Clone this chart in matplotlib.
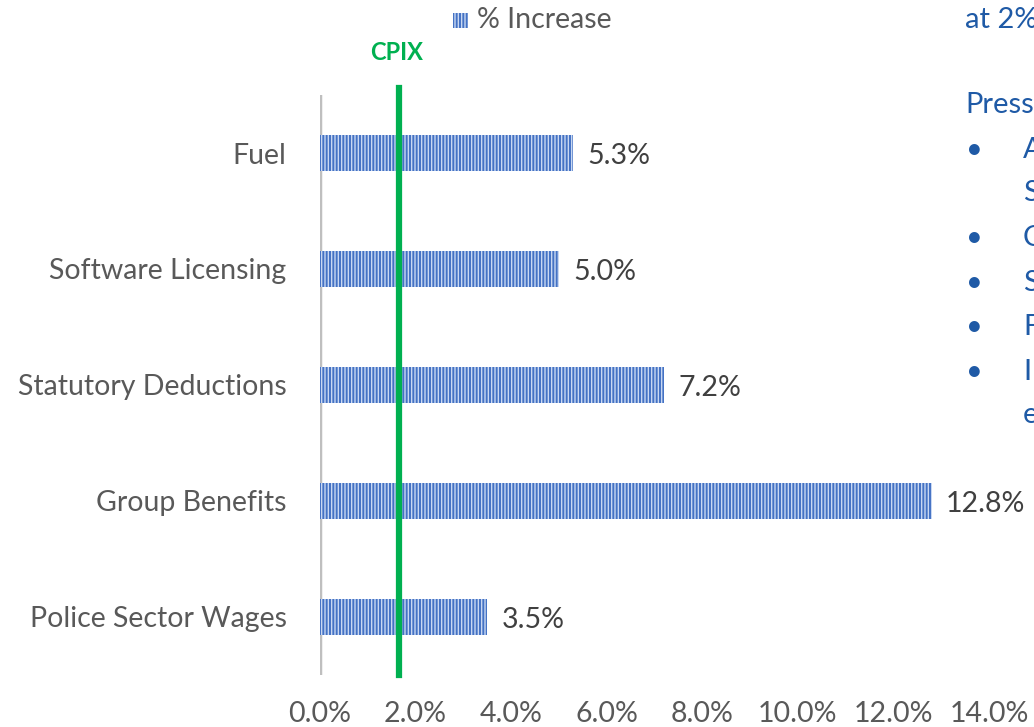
import matplotlib
matplotlib.use("Agg")
import matplotlib.pyplot as plt
from matplotlib.patches import Rectangle

categories = ["Police Sector Wages", "Group Benefits", "Statutory Deductions",
              "Software Licensing", "Fuel"]
values = [3.5, 12.8, 7.2, 5.0, 5.3]
value_labels = ["3.5%", "12.8%", "7.2%", "5.0%", "5.3%"]
cpix = 1.65
xticks = [0, 2, 4, 6, 8, 10, 12, 14]
xtick_labels = ["0.0%", "2.0%", "4.0%", "6.0%", "8.0%", "10.0%", "12.0%", "14.0%"]
side_lines = ["at 2%", "", "Press"]
bullet_items = ["A", "S", "C", "S", "F", "I", "e"]
bullet_marks = [True, False, True, True, True, True, False]

plt.rcParams['font.family'] = ['Lato', 'DejaVu Sans']
plt.rcParams['hatch.linewidth'] = 1.0

W, H = 1034, 727
fig = plt.figure(figsize=(W / 100, H / 100), dpi=100)
# axes: x from px 320 (0) to 989 (14); y from 95 to 675
ax = fig.add_axes([320 / W, 1 - 675 / H, (989 - 320) / W, (675 - 95) / H])
ax.set_xlim(0, 14)
ax.set_ylim(-0.5, 4.5)

FS = 20.5
bars = ax.barh(range(len(categories)), values, height=0.31, color='#4472C4',
               edgecolor='#c9d8f2', linewidth=0, hatch='|||||', zorder=2)

for i, (v, lab) in enumerate(zip(values, value_labels)):
    ax.text(v + 0.3, i - 0.03, lab, va='center', ha='left', fontsize=FS,
            color='#404040')

ax.axvline(cpix, ymin=0, ymax=(675 - 88) / (675 - 95), color='#00B050', lw=4.5,
           zorder=3, clip_on=False)
ax.text(cpix - 0.05, (675 - 53) / (675 - 95), "CPIX", transform=ax.get_xaxis_transform(),
        ha='center', va='center', fontsize=17, fontweight='bold', color='#00B050')

for s in ax.spines.values():
    s.set_visible(False)
ax.axvline(0, color='#bfbfbf', lw=2.5, zorder=1, ymin=0, ymax=1)
ax.set_xticks(xticks)
ax.set_xticklabels(xtick_labels, fontsize=FS, color='#595959')
ax.set_yticks(range(len(categories)))
ax.set_yticklabels(categories, fontsize=FS, color='#595959')
ax.tick_params(axis='both', length=0)
ax.tick_params(axis='x', pad=19)
ax.tick_params(axis='y', pad=24)

# legend
lx, ly = 453 / W, 1 - 28 / H
fig.patches.append(Rectangle((lx, ly), 15 / W, 15 / H, transform=fig.transFigure,
                             facecolor='#4472C4', edgecolor='#c9d8f2', linewidth=0,
                             hatch='|||||'))
fig.text(477 / W, 1 - 20 / H, "% Increase", fontsize=FS, color='#595959',
         va='center', ha='left')

# cut-off side text
blue = '#1F5AA6'
SFS = 21
fig.text(965 / W, 1 - 20 / H, side_lines[0], fontsize=SFS, color=blue, va='center')
fig.text(965 / W, 1 - 105 / H, side_lines[2], fontsize=SFS, color=blue, va='center')
ys = [150, 193, 238, 283, 327, 372, 415]
for y, t, m in zip(ys, bullet_items, bullet_marks):
    if m:
        fig.text(966 / W, 1 - y / H, "•", fontsize=SFS, color=blue, va='center')
    fig.text(1023 / W, 1 - y / H, t, fontsize=SFS, color=blue, va='center')

fig.savefig("out.png", dpi=100)
